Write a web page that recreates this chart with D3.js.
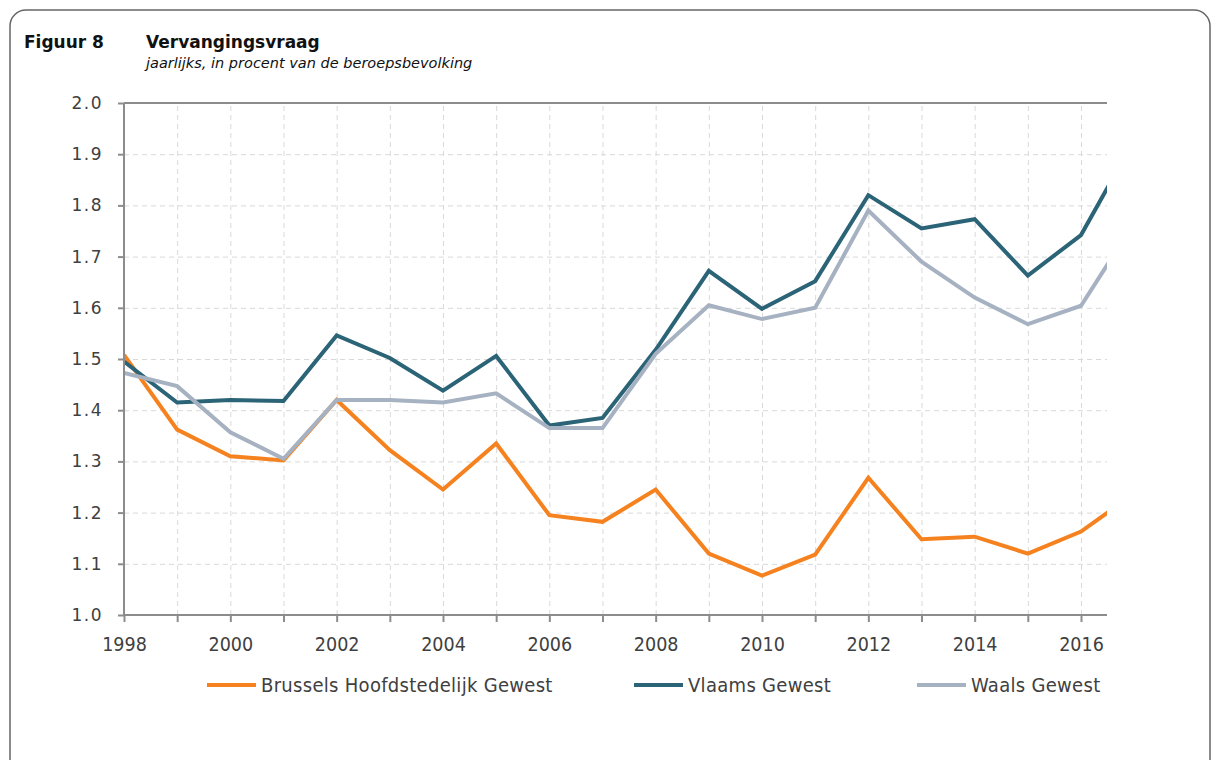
<!DOCTYPE html>
<html>
<head>
<meta charset="utf-8">
<script src="https://cdn.jsdelivr.net/npm/d3@7"></script>
<style>
  body { margin: 0; background: #fff; }
  svg { display: block; font-family: "DejaVu Sans", sans-serif; }
  .grid line { stroke: #d9d9d9; stroke-dasharray: 5,4; }
  .grid path { display: none; }
  .axis line, .axis path { stroke: #8c8c8c; stroke-width: 2; }
  .cond { font-family: "DejaVu Sans Condensed", "DejaVu Sans", sans-serif; font-stretch: condensed; }
</style>
</head>
<body>
<script>
// data (last point lies past the right edge and is clipped)
var years    = [1998,1999,2000,2001,2002,2003,2004,2005,2006,2007,2008,2009,2010,2011,2012,2013,2014,2015,2016,2017];
var brussels = [1.508,1.362,1.310,1.302,1.420,1.322,1.245,1.335,1.195,1.182,1.245,1.120,1.077,1.118,1.268,1.148,1.153,1.120,1.163,1.237];
var vlaams   = [1.495,1.415,1.420,1.418,1.546,1.502,1.438,1.506,1.370,1.385,1.518,1.672,1.598,1.652,1.820,1.755,1.773,1.663,1.742,1.928];
var waals    = [1.473,1.447,1.357,1.305,1.420,1.420,1.415,1.433,1.365,1.365,1.510,1.605,1.578,1.600,1.790,1.690,1.620,1.568,1.604,1.766];
var yTicks   = [1.0,1.1,1.2,1.3,1.4,1.5,1.6,1.7,1.8,1.9,2.0];
var xTicks   = [1998,2000,2002,2004,2006,2008,2010,2012,2014,2016];

var series = [
    {name:"Brussels Hoofdstedelijk Gewest", color:"#f5821f", values:brussels},
    {name:"Vlaams Gewest", color:"#2b6377", values:vlaams},
    {name:"Waals Gewest", color:"#a6b2c1", values:waals}
];

var W = 1214, H = 760;
var margin = {top:103, left:124, right:107, bottom:145},
    width = W - margin.left - margin.right,
    height = H - margin.top - margin.bottom;

var svg = d3.select("body").append("svg")
    .attr("width", W)
    .attr("height", H);

// frame
svg.append("rect")
    .attr("x", 10).attr("y", 10)
    .attr("width", 1200).attr("height", 790)
    .attr("rx", 16)
    .attr("fill", "none")
    .attr("stroke", "#666")
    .attr("stroke-width", 1.5);

// titles
svg.append("text").attr("x", 24).attr("y", 48)
    .style("font-size", "17px").style("font-weight", "bold").attr("fill", "#111")
    .text("Figuur 8");
svg.append("text").attr("x", 146).attr("y", 48)
    .style("font-size", "17px").style("font-weight", "bold").attr("fill", "#111")
    .text("Vervangingsvraag");
svg.append("text").attr("x", 146).attr("y", 68)
    .style("font-size", "14.5px").style("font-style", "italic").attr("fill", "#111")
    .text("jaarlijks, in procent van de beroepsbevolking");

var x = d3.scaleLinear()
    .domain([1998, 1998 + 18 * width / 957])
    .range([0, width]);

var y = d3.scaleLinear()
    .domain([1.0, 2.0])
    .range([height, 0]);

var g = svg.append("g")
    .attr("transform", "translate(" + margin.left + "," + margin.top + ")");

// gridlines
g.append("g")
    .attr("class", "grid")
    .attr("transform", "translate(0," + height + ")")
    .call(d3.axisBottom(x).tickValues(years.slice(1, 19)).tickSize(-height).tickFormat(""));

g.append("g")
    .attr("class", "grid")
    .call(d3.axisLeft(y).tickValues(yTicks.slice(1, 10)).tickSize(-width).tickFormat(""));

// top line
g.append("line")
    .attr("x1", 0).attr("x2", width)
    .attr("y1", y(2.0)).attr("y2", y(2.0))
    .attr("stroke", "#8c8c8c").attr("stroke-width", 2);

// lines
svg.append("clipPath").attr("id", "plotclip")
    .append("rect").attr("x", 0).attr("y", -10).attr("width", width).attr("height", height + 20);

var line = d3.line()
    .x(function(d, i) { return x(years[i]); })
    .y(function(d) { return y(d); });

g.append("g")
    .attr("clip-path", "url(#plotclip)")
    .selectAll(".line")
    .data(series)
    .enter().append("path")
    .attr("class", "line")
    .attr("d", function(d) { return line(d.values); })
    .attr("fill", "none")
    .attr("stroke", function(d) { return d.color; })
    .attr("stroke-width", 4)
    .attr("stroke-linejoin", "miter");

// y-axis
var yAx = g.append("g")
    .attr("class", "axis")
    .call(d3.axisLeft(y).tickValues(yTicks).tickSize(6).tickPadding(15).tickFormat(d3.format(".1f")));
yAx.select(".domain").attr("d", "M0," + height + "V0");
yAx.attr("font-family", null);
yAx.selectAll("text")
    .style("font-size", "17px")
    .style("letter-spacing", "1.5px")
    .attr("fill", "#404040");

// x-axis
var xAx = g.append("g")
    .attr("class", "axis")
    .attr("transform", "translate(0," + height + ")")
    .call(d3.axisBottom(x).tickValues(years.slice(0, 19)).tickSize(7).tickPadding(15)
        .tickFormat(function(d) { return xTicks.indexOf(d) >= 0 ? d : ""; }));
xAx.select(".domain").attr("d", "M0,0H" + width);
xAx.attr("font-family", null);
xAx.selectAll("text")
    .attr("class", "cond")
    .style("font-size", "19.5px")
    .attr("fill", "#404040");

// legend
var legendX = [207, 634, 917];
var legend = svg.selectAll(".legend")
    .data(series)
    .enter().append("g")
    .attr("class", "legend")
    .attr("transform", function(d, i) { return "translate(" + legendX[i] + ",685)"; });

legend.append("line")
    .attr("x1", 0).attr("x2", 49)
    .attr("stroke", function(d) { return d.color; })
    .attr("stroke-width", 4);

legend.append("text")
    .attr("class", "cond")
    .attr("x", 54).attr("y", 7)
    .style("font-size", "20px")
    .style("letter-spacing", "0.3px")
    .attr("fill", "#404040")
    .text(function(d) { return d.name; });
</script>
</body>
</html>
